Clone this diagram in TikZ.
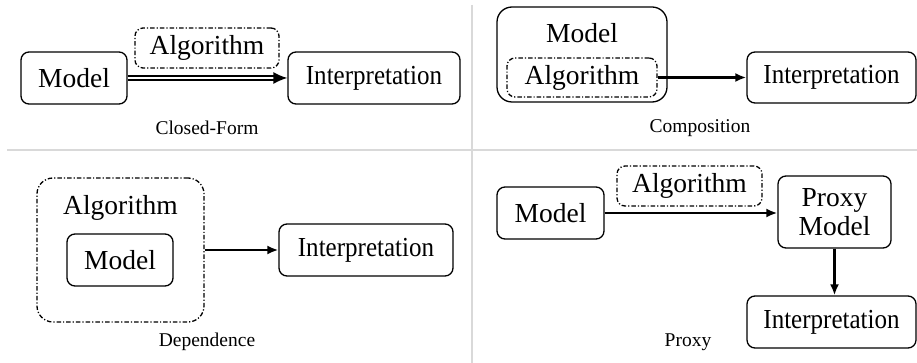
\documentclass[tikz,border=0pt]{standalone}
\usepackage{fontspec}
\setmainfont{Liberation Serif}
\usetikzlibrary{arrows.meta}
\definecolor{sepgray}{RGB}{217,217,217}
\newcommand{\interptxt}{\scalebox{0.91}[1]{Interpretation}}
\tikzset{
  box/.style={draw, line width=1.3pt, rounded corners=8pt, inner sep=0pt, align=center, font=\fontsize{27.5}{29}\selectfont},
  algbox/.style={box, dash pattern=on 4.5pt off 2pt on 1.2pt off 2pt},
  txt/.style={inner sep=0pt, font=\fontsize{27.5}{29}\selectfont},
  captxt/.style={inner sep=0pt, font=\fontsize{19.5}{22}\selectfont},
  arr/.style={line width=2.6pt, -{Latex[length=11pt,width=9pt]}},
  dblarr/.style={line width=1.5pt, double, double distance=2.8pt, -{Latex[length=14pt,width=12pt]}},
  sepline/.style={draw=sepgray, line width=1.6pt}
}
\begin{document}
\begin{tikzpicture}[x=1pt,y=-1pt]
\useasboundingbox (0,0) rectangle (917,363);
% separators
\coordinate (hl) at (7,150);
\coordinate (hr) at (917,150);
\coordinate (vt) at (472,5);
\coordinate (vb) at (472,363);
\draw[sepline] (hl) -- (hr);
\draw[sepline] (vt) -- (vb);

% Closed-Form
\node[box, minimum width=106pt, minimum height=52pt] (m1) at (74,78) {Model};
\node[algbox, minimum width=144pt, minimum height=40pt] (a1) at (207,48) {Algorithm};
\node[box, minimum width=172pt, minimum height=52pt] (i1) at (374,78) {\interptxt};
\draw[dblarr] (m1.east) -- (i1.west);
\node[captxt] (c1) at (207,128) {Closed-Form};

% Composition
\node[box, rounded corners=15pt, minimum width=170pt, minimum height=95pt] (m2) at (582,54.5) {};
\node[txt] (m2t) at (582,33) {Model};
\node[algbox, minimum width=150pt, minimum height=39pt] (a2) at (582,77.5) {Algorithm};
\node[box, minimum width=169pt, minimum height=51pt] (i2) at (831.5,77.5) {\interptxt};
\draw[arr] (a2.east) -- (i2.west);
\node[captxt] (c2) at (700,128) {Composition};

% Dependence
\node[algbox, rounded corners=16pt, minimum width=167pt, minimum height=144pt] (a3) at (120.5,250) {};
\node[txt] (a3t) at (120.5,208) {Algorithm};
\node[box, minimum width=106pt, minimum height=52pt] (m3) at (120,260) {Model};
\node[box, minimum width=174pt, minimum height=52pt] (i3) at (366,250) {\interptxt};
\draw[arr] (a3.east) -- (i3.west);
\node[captxt] (c3) at (207,342) {Dependence};

% Proxy
\node[box, minimum width=107pt, minimum height=52pt] (m4) at (550.5,213) {Model};
\node[algbox, minimum width=145pt, minimum height=40pt] (a4) at (689.5,186) {Algorithm};
\node[box, minimum width=113pt, minimum height=72pt] (p4) at (834.5,212) {Proxy\\Model};
\node[box, minimum width=169pt, minimum height=52pt] (i4) at (831.5,322) {\interptxt};
\draw[arr] (m4.east) -- (m4.east -| p4.west);
\draw[arr] (p4.south) -- (p4.south |- i4.north);
\node[captxt] (c4) at (688,342) {Proxy};
\end{tikzpicture}
\end{document}
